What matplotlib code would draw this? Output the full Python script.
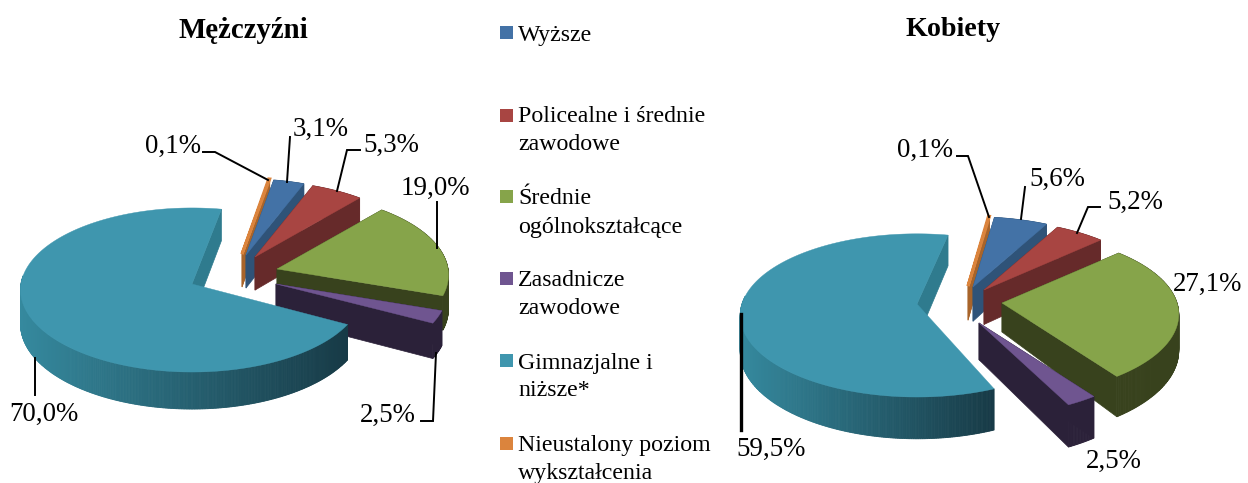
import numpy as np
import matplotlib
matplotlib.use("Agg")
import matplotlib.pyplot as plt
from matplotlib.patches import Polygon, Rectangle
from matplotlib.colors import to_rgb

plt.rcParams['font.family'] = ['Liberation Serif', 'DejaVu Serif']

# ---- data ----
categories = [["Wyższe"], ["Policealne i średnie", "zawodowe"], ["Średnie", "ogólnokształcące"],
              ["Zasadnicze", "zawodowe"], ["Gimnazjalne i", "niższe*"],
              ["Nieustalony poziom", "wykształcenia"]]
men_values = [3.1, 5.3, 19.0, 2.5, 70.0, 0.1]
women_values = [5.6, 5.2, 27.1, 2.5, 59.5, 0.1]
men_title = "Mężczyźni"
women_title = "Kobiety"

# ---- styles ----
top_colors = ["#4372a6", "#a84542", "#86a44a", "#6f5590", "#3f96ae", "#db843d"]
wall_colors = ["#2f5378", "#662a2a", "#38421d", "#2b2139", "#2f7b8e", "#a8642a"]
teal_grad = ("#35899e", "#173a46")
legend_y = [[35], [117, 145], [199, 227], [281, 309], [363, 391], [446, 474]]
legend_sq_y = [26, 109, 190, 272, 354, 437]

men_layout = dict(t0=80.0, rx=171, ry=81.6, k=0.073, d0=33, dg=0.034, dy0=254,
                  apex=[(246, 255), (255, 257), (277, 269), (276, 284), (192, 284), (242, 254)],
                  rot=[0, 0, 0, 0, -1, 0], apex_depth=[None] * 6)
women_layout = dict(t0=82.0, rx=175, ry=80, k=0.14, d0=34, dg=0.068, dy0=283,
                    apex=[(973, 287), (984, 290), (1002, 303), (979, 323), (917, 304), (968, 286)],
                    rot=[0, 0, 0, 0, -4, 0], apex_depth=[None, None, 29, None, None, None])

fig = plt.figure(figsize=(12.48, 4.83), dpi=100)
ax = fig.add_axes([0, 0, 1, 1])
ax.set_xlim(0, 1248)
ax.set_ylim(483, 0)
ax.axis("off")


def project(t_deg, apex, L, r=1.0):
    t = np.radians(t_deg)
    u, v = r * np.cos(t), r * np.sin(t)
    s = 1.0 / (1.0 + L['k'] * v)
    return apex[0] + L['rx'] * u * s, apex[1] - L['ry'] * v * s


def depth(y, L):
    return L['d0'] + L['dg'] * (y - L['dy0'])


def draw_pie(values, L, z):
    angles = np.array(values) * 3.6
    starts = L['t0'] - np.concatenate([[0], np.cumsum(angles)[:-1]])
    order = [5, 0, 1, 2, 3, 4]
    for i in order:
        a0 = starts[i] + L['rot'][i]
        a1 = a0 - angles[i]
        ap = L['apex'][i]
        ts = np.linspace(a0, a1, max(int(angles[i] * 2), 2))
        xs, ys = project(ts, ap, L)
        ds = depth(ys, L)
        ad = L['apex_depth'][i] if L['apex_depth'][i] is not None else depth(ap[1], L)
        wall = wall_colors[i]
        p_end = (xs[-1], ys[-1]); p_beg = (xs[0], ys[0])
        z += 1
        # outer wall (for the big slice only the part facing the viewer)
        for j in range(len(ts) - 1):
            if i == 4:
                if np.sin(np.radians(ts[j])) > 0.1:
                    continue
                f = (xs[j] - xs.min()) / (xs.max() - xs.min())
                c0, c1 = np.array(to_rgb(teal_grad[0])), np.array(to_rgb(teal_grad[1]))
                col = tuple(c0 + (c1 - c0) * f)
            else:
                col = wall
            ax.add_patch(Polygon([(xs[j], ys[j]), (xs[j + 1], ys[j + 1]),
                                  (xs[j + 1], ys[j + 1] + ds[j + 1]), (xs[j], ys[j] + ds[j])],
                                 closed=True, fc=col, ec=col, lw=0.6, zorder=z))
        # cut walls
        if i != 4:
            ax.add_patch(Polygon([ap, p_beg, (p_beg[0], p_beg[1] + ds[0]), (ap[0], ap[1] + ad)],
                                 closed=True, fc=wall, ec=wall, lw=0.5, zorder=z))
        ax.add_patch(Polygon([ap, p_end, (p_end[0], p_end[1] + ds[-1]), (ap[0], ap[1] + ad)],
                             closed=True, fc=wall, ec=wall, lw=0.5, zorder=z))
        # top surface
        z += 1
        pts = [ap] + list(zip(xs, ys))
        lw = 2.2 if i == 5 else 0.3
        ax.add_patch(Polygon(pts, closed=True, fc=top_colors[i], ec=top_colors[i], lw=lw, zorder=z))
    return z


z = draw_pie(men_values, men_layout, 2)
z = draw_pie(women_values, women_layout, z + 1)

# ---- data labels: formatted from the values ----
def fmt(v):
    return f"{v:.1f}".replace(".", ",") + "%"

men_label_xy = [(321, 129), (391, 145), (435, 188), (388, 415), (44, 414), (173, 146)]
women_label_xy = [(1057, 179), (1135, 202), (1208, 284), (1114, 461), (771, 449), (925, 150)]
for vals, xy in ((men_values, men_label_xy), (women_values, women_label_xy)):
    for v, (x, y) in zip(vals, xy):
        ax.text(x, y, fmt(v), fontsize=19.4, ha="center", va="center", color="black", zorder=z + 5)

# ---- leaders ----
leaders = [
    ([203, 215, 268], [152, 152, 180], 1.4),
    ([290, 287], [137, 182], 1.4),
    ([360, 347, 337], [150, 150, 191], 1.4),
    ([437, 437], [202, 248], 1.4),
    ([421, 433, 436], [421, 421, 353], 1.4),
    ([35, 35], [358, 395], 1.4),
    ([957, 968, 989], [156, 156, 217], 1.4),
    ([1025, 1021], [187, 219], 1.4),
    ([1100, 1088, 1077], [207, 207, 233], 1.4),
    ([741, 741], [314, 430], 2.4),
]
for lx, ly, lw in leaders:
    ax.plot(lx, ly, color="black", lw=lw, zorder=z + 4, solid_joinstyle="miter")

# ---- titles ----
ax.text(243.5, 31, men_title, fontsize=20.8, fontweight="bold", ha="center", va="center")
ax.text(953.5, 30, women_title, fontsize=20.2, fontweight="bold", ha="center", va="center")

# ---- legend ----
for i in range(6):
    ax.add_patch(Rectangle((500, legend_sq_y[i]), 12.5, 12.5, fc=top_colors[i], ec="none"))
    for line, y in zip(categories[i], legend_y[i]):
        ax.text(518, y, line, fontsize=17.2, ha="left", va="center", color="black")

fig.savefig("out.png", dpi=100, facecolor="white")
